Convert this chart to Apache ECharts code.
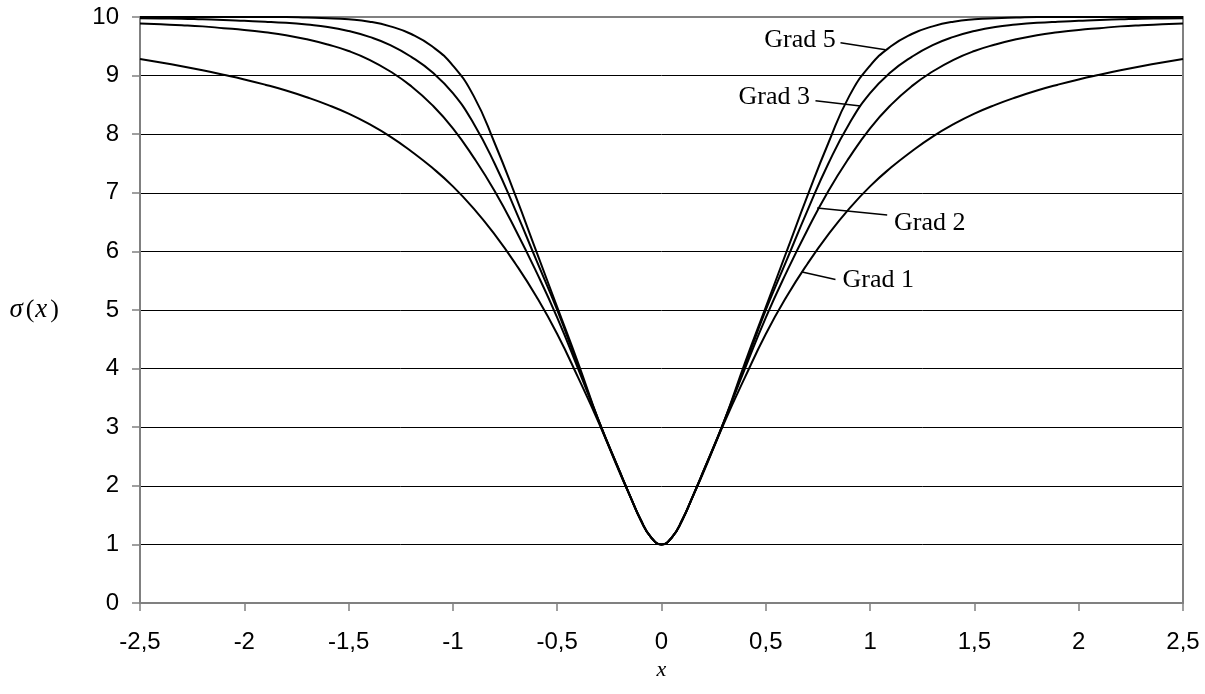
<!DOCTYPE html>
<html><head><meta charset="utf-8">
<script src="https://cdn.jsdelivr.net/npm/echarts@6/dist/echarts.min.js"></script>
<style>html,body{margin:0;padding:0;background:#fff}#c{width:1205px;height:694px}</style>
</head><body><div id="c"></div>
<script>
// x positions of the sampled points
const xValues = [-2.5,-2.4,-2.3,-2.2,-2.1,-2.0,-1.9,-1.8,-1.7,-1.6,-1.5,-1.4,-1.3,-1.2,-1.1,-1.0,-0.9,-0.8,-0.7,-0.6,-0.5,-0.4,-0.3,-0.2,-0.15,-0.1,-0.05,
  0,0.05,0.1,0.15,0.2,0.3,0.4,0.5,0.6,0.7,0.8,0.9,1.0,1.1,1.2,1.3,1.4,1.5,1.6,1.7,1.8,1.9,2.0,2.1,2.2,2.3,2.4,2.5];

const grad1 = [9.285,9.225,9.16,9.09,9.015,8.935,8.845,8.745,8.63,8.5,8.35,8.17,7.96,7.71,7.43,7.11,6.73,6.29,5.79,5.23,4.59,3.85,3.07,2.22,1.82,1.42,1.12,
  1,1.12,1.42,1.82,2.22,3.07,3.85,4.59,5.23,5.79,6.29,6.73,7.11,7.43,7.71,7.96,8.17,8.35,8.5,8.63,8.745,8.845,8.935,9.015,9.09,9.16,9.225,9.285];

const grad2 = [9.89,9.875,9.86,9.84,9.81,9.78,9.74,9.69,9.62,9.53,9.42,9.27,9.07,8.82,8.5,8.1,7.6,7.03,6.37,5.65,4.87,4.0,3.1,2.24,1.82,1.42,1.12,
  1,1.12,1.42,1.82,2.24,3.1,4.0,4.87,5.65,6.37,7.03,7.6,8.1,8.5,8.82,9.07,9.27,9.42,9.53,9.62,9.69,9.74,9.78,9.81,9.84,9.86,9.875,9.89];

const grad3 = [9.98,9.975,9.97,9.96,9.95,9.935,9.92,9.9,9.87,9.83,9.76,9.66,9.52,9.32,9.06,8.7,8.18,7.5,6.7,5.85,5.0,4.05,3.1,2.24,1.82,1.42,1.12,
  1,1.12,1.42,1.82,2.24,3.1,4.05,5.0,5.85,6.7,7.5,8.18,8.7,9.06,9.32,9.52,9.66,9.76,9.83,9.87,9.9,9.92,9.935,9.95,9.96,9.97,9.975,9.98];

const grad5 = [10,10,10,10,10,10,10,10,9.99,9.98,9.96,9.92,9.84,9.71,9.5,9.17,8.65,7.85,6.95,6.0,5.05,4.1,3.1,2.24,1.82,1.42,1.12,
  1,1.12,1.42,1.82,2.24,3.1,4.1,5.05,6.0,6.95,7.85,8.65,9.17,9.5,9.71,9.84,9.92,9.96,9.98,9.99,10,10,10,10,10,10,10,10];

const seriesNames = ['Grad 1','Grad 2','Grad 3','Grad 5'];
const seriesData = [grad1, grad2, grad3, grad5];

const xMin = -2.5, xMax = 2.5, xStep = 0.5;
const yMin = 0, yMax = 10, yStep = 1;

// label annotations (data coordinates)
const annotations = [
  {text:'Grad 5', curve:[1.074,9.44], end:[0.858,9.56], at:[0.835,9.61], align:'right'},
  {text:'Grad 3', curve:[0.954,8.48], end:[0.738,8.57], at:[0.712,8.63], align:'right'},
  {text:'Grad 2', curve:[0.746,6.74], end:[1.082,6.62], at:[1.115,6.49], align:'left'},
  {text:'Grad 1', curve:[0.674,5.65], end:[0.834,5.52], at:[0.868,5.51], align:'left'}
];

const chart = echarts.init(document.getElementById('c'), null, {renderer:'canvas'});
const axisGray = '#808080';
const fmt = v => String(v).replace('.', ',');

chart.setOption({
  backgroundColor:'#fff',
  animation:false,
  grid:{left:140, right:22, top:17, bottom:91, containLabel:false},
  xAxis:[{
    type:'value', min:xMin, max:xMax, interval:xStep,
    name:'x', nameLocation:'middle', nameGap:40,
    nameTextStyle:{fontFamily:'Liberation Serif', fontStyle:'italic', fontSize:22, color:'#000'},
    axisLine:{show:true, onZero:false, lineStyle:{color:axisGray, width:2}},
    axisTick:{show:true, length:8, lineStyle:{color:axisGray, width:1.5}},
    axisLabel:{formatter:fmt, fontFamily:'Liberation Sans', fontSize:24, color:'#000', margin:27},
    splitLine:{show:false}
  },{
    type:'value', position:'top', min:xMin, max:xMax, interval:xStep,
    axisLine:{show:true, onZero:false, lineStyle:{color:axisGray, width:2}},
    axisTick:{show:false}, axisLabel:{show:false}, splitLine:{show:false}
  }],
  yAxis:[{
    type:'value', min:yMin, max:yMax, interval:yStep,
    name:'{s|σ}{p|(}{s|x}{p|)}', nameLocation:'middle', nameGap:80, nameRotate:0,
    nameTextStyle:{align:'right', rich:{
      s:{fontFamily:'Liberation Serif', fontStyle:'italic', fontSize:27, color:'#000', padding:[0,2,0,0]},
      p:{fontFamily:'Liberation Serif', fontSize:26, color:'#000', padding:[0,1,0,1]}
    }},
    axisLine:{show:true, onZero:false, lineStyle:{color:axisGray, width:2}},
    axisTick:{show:true, length:8, lineStyle:{color:axisGray, width:1.5}},
    axisLabel:{fontFamily:'Liberation Sans', fontSize:24, color:'#000', margin:21},
    splitLine:{show:true, lineStyle:{color:'#000', width:1}}
  },{
    type:'value', position:'right', min:yMin, max:yMax, interval:yStep,
    axisLine:{show:true, onZero:false, lineStyle:{color:axisGray, width:2}},
    axisTick:{show:false}, axisLabel:{show:false}, splitLine:{show:false}
  }],
  series: seriesNames.map((n,i)=>({
    name:n, type:'line', xAxisIndex:0, yAxisIndex:0,
    data: xValues.map((x,j)=>[x, seriesData[i][j]]),
    smooth:0.5, showSymbol:false, symbol:'none',
    lineStyle:{color:'#000', width:2}, z:3
  }))
});

function drawAnnotations(){
  const els = [];
  annotations.forEach(a=>{
    const p1 = chart.convertToPixel({xAxisIndex:0, yAxisIndex:0}, a.curve);
    const p2 = chart.convertToPixel({xAxisIndex:0, yAxisIndex:0}, a.end);
    const pt = chart.convertToPixel({xAxisIndex:0, yAxisIndex:0}, a.at);
    els.push({type:'line', shape:{x1:p1[0], y1:p1[1], x2:p2[0], y2:p2[1]}, style:{stroke:'#000', lineWidth:1.5}, z:10});
    els.push({type:'text', x:pt[0], y:pt[1], style:{text:a.text, font:'26px "Liberation Serif"', fill:'#000', align:a.align, verticalAlign:'middle'}, z:10});
  });
  chart.setOption({graphic:els});
}
drawAnnotations();
</script>
</body></html>
